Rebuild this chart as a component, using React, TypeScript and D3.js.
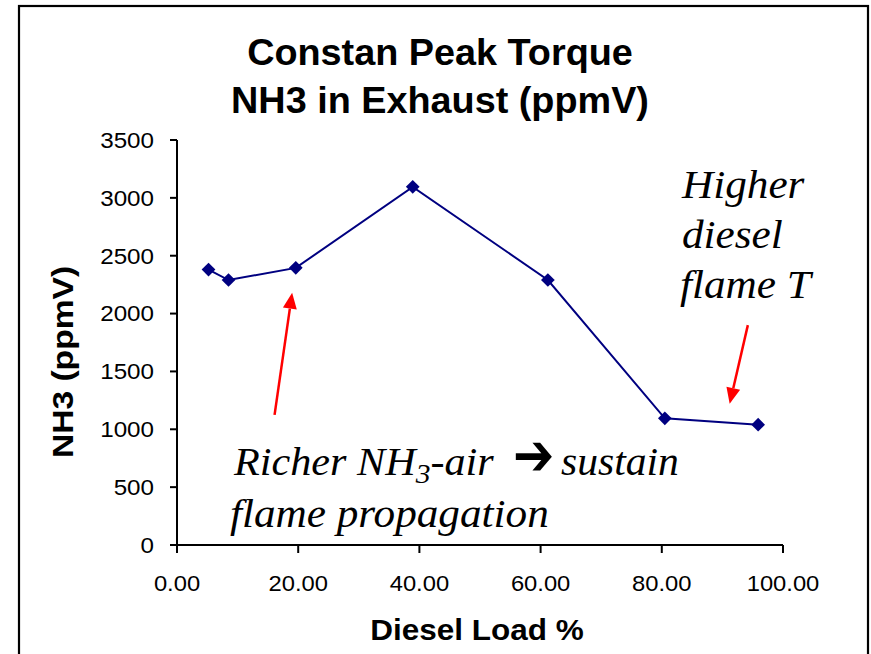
import React from "react";
import * as d3 from "d3";

const loads = [5.2, 8.5, 19.6, 38.9, 61.2, 80.5, 95.9];
const nh3 = [2380, 2290, 2395, 3095, 2290, 1095, 1040];
const xTicks = [0, 20, 40, 60, 80, 100];
const yTicks = [0, 500, 1000, 1500, 2000, 2500, 3000, 3500];
const titleLines = ["Constan Peak Torque", "NH3 in Exhaust (ppmV)"];
// annotation arrows in data coordinates: [x0, y0, x1, y1] (tail -> head)
const arrowsData = [
  [16.1, 1125, 19.0, 2180],
  [94.2, 1900, 91.2, 1220],
];

const W = 871;
const H = 654;
const SANS = "Liberation Sans, Arial, sans-serif";
const SERIF = "Liberation Serif, Times New Roman, serif";

function T(props: {
  x: number;
  y: number;
  sx?: number;
  anchor?: string;
  size: number;
  bold?: boolean;
  italic?: boolean;
  family?: string;
  dy?: string;
  children: React.ReactNode;
}) {
  const { x, y, sx = 1.1, anchor = "start", size, bold, italic, family = SANS, dy } = props;
  return (
    <g transform={`translate(${x},${y}) scale(${sx},1)`}>
      <text
        x={0}
        y={0}
        dy={dy}
        textAnchor={anchor}
        fontFamily={family}
        fontWeight={bold ? "bold" : "normal"}
        fontStyle={italic ? "italic" : "normal"}
        fontSize={size}
        fill="#000"
      >
        {props.children}
      </text>
    </g>
  );
}

export default function App() {
  const x = d3.scaleLinear().domain([0, 100]).range([177, 783]);
  const y = d3.scaleLinear().domain([0, 3500]).range([545, 140]);
  const pts = loads.map((l, i) => [l, nh3[i]] as [number, number]);
  const line = d3
    .line<[number, number]>()
    .x((d) => x(d[0]))
    .y((d) => y(d[1]));
  const diamond = d3.symbol().type(d3.symbolDiamond2).size(120)();

  const arrowHead = (x0: number, y0: number, x1: number, y1: number) => {
    const ang = Math.atan2(y1 - y0, x1 - x0);
    const len = 16;
    const half = 7;
    const bx = x1 - len * Math.cos(ang);
    const by = y1 - len * Math.sin(ang);
    const px = -Math.sin(ang) * half;
    const py = Math.cos(ang) * half;
    return { bx, by, d: `M${x1},${y1}L${bx + px},${by + py}L${bx - px},${by - py}Z` };
  };

  return (
    <svg
      width={W}
      height={H}
      style={{ position: "absolute", left: 0, top: 0, background: "#fff" }}
    >
      <rect x={0} y={0} width={W} height={H} fill="#fff" />
      <rect x={19} y={6} width={849} height={700} fill="none" stroke="#000" strokeWidth={2.2} />

      {/* title */}
      {titleLines.map((t, i) => (
        <T key={t} x={440} y={65 + i * 48} anchor="middle" size={36} bold sx={1.05}>
          {t}
        </T>
      ))}

      {/* y axis */}
      <line x1={x(0)} x2={x(0)} y1={y(0)} y2={y(3500)} stroke="#000" strokeWidth={2} />
      {yTicks.map((t) => (
        <g key={t}>
          <line x1={x(0) - 7} x2={x(0)} y1={y(t)} y2={y(t)} stroke="#000" strokeWidth={2} />
          <T x={154} y={y(t)} dy="0.36em" anchor="end" size={22} sx={1.1}>
            {t}
          </T>
        </g>
      ))}

      {/* x axis */}
      <line x1={x(0)} x2={x(100)} y1={y(0)} y2={y(0)} stroke="#000" strokeWidth={2} />
      {xTicks.map((t) => (
        <g key={t}>
          <line x1={x(t)} x2={x(t)} y1={y(0)} y2={y(0) + 8} stroke="#000" strokeWidth={2} />
          <T x={x(t)} y={591} anchor="middle" size={22} sx={1.08}>
            {t.toFixed(2)}
          </T>
        </g>
      ))}

      {/* axis titles */}
      <T x={477} y={640} anchor="middle" size={30} bold sx={1.05}>
        Diesel Load %
      </T>
      <g transform="translate(73,362) rotate(-90)">
        <text
          x={0}
          y={0}
          textAnchor="middle"
          fontFamily={SANS}
          fontWeight="bold"
          fontSize={30}
          fill="#000"
          transform="scale(1.12,1)"
        >
          NH3 (ppmV)
        </text>
      </g>

      {/* series */}
      <path d={line(pts) || ""} fill="none" stroke="#000080" strokeWidth={2} />
      {pts.map((p, i) => (
        <path key={i} d={diamond || ""} transform={`translate(${x(p[0])},${y(p[1])})`} fill="#000080" />
      ))}

      {/* annotation arrows */}
      {arrowsData.map((a, i) => {
        const x0 = x(a[0]);
        const y0 = y(a[1]);
        const x1 = x(a[2]);
        const y1 = y(a[3]);
        const h = arrowHead(x0, y0, x1, y1);
        return (
          <g key={i}>
            <line x1={x0} y1={y0} x2={h.bx} y2={h.by} stroke="#ff0000" strokeWidth={2.5} />
            <path d={h.d} fill="#ff0000" />
          </g>
        );
      })}

      {/* annotation texts */}
      <T x={682} y={198} size={40} italic family={SERIF} sx={1.08}>Higher</T>
      <T x={682} y={248} size={40} italic family={SERIF} sx={1.08}>diesel</T>
      <T x={680} y={298} size={40} italic family={SERIF} sx={1.08}>flame T</T>
      <T x={234} y={475} size={40} italic family={SERIF} sx={1.055}>
        Richer NH
        <tspan fontSize={28} dy={8}>3</tspan>
        <tspan dy={-8}>-air</tspan>
      </T>
      <T x={513} y={475} size={58} bold family="DejaVu Sans, sans-serif" sx={0.85}>
        ➔
      </T>
      <T x={561} y={475} size={40} italic family={SERIF} sx={1.04}>sustain</T>
      <T x={230} y={527} size={40} italic family={SERIF} sx={1.08}>flame propagation</T>
    </svg>
  );
}
